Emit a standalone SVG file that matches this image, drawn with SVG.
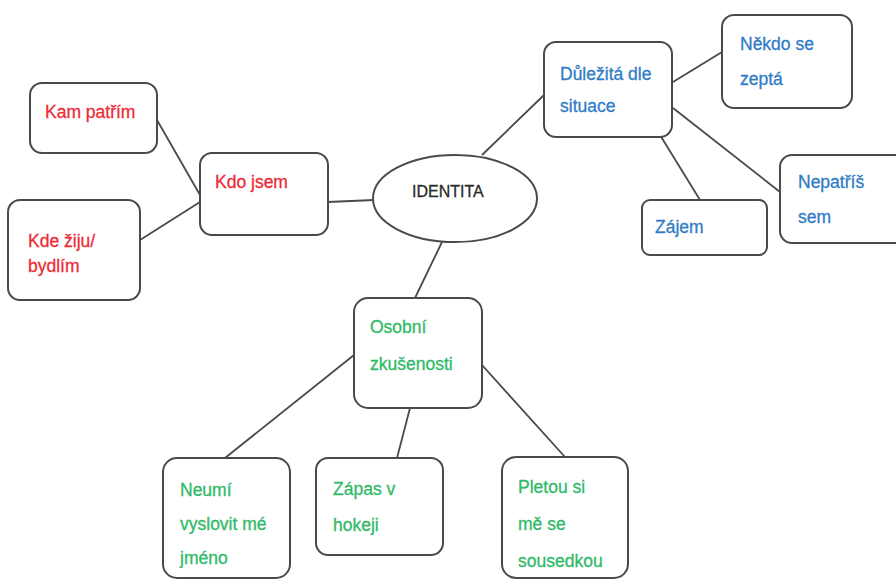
<svg xmlns="http://www.w3.org/2000/svg" width="896" height="581" viewBox="0 0 896 581">
<style>
.box{fill:#fff;stroke:#4a4a4a;stroke-width:2}
.con{stroke:#4a4a4a;stroke-width:1.8;fill:none}
text{font-family:"Liberation Sans",Arial,sans-serif;font-size:17.5px;stroke-width:0.3}
.r{fill:#ec2b35;stroke:#ec2b35}
.b{fill:#2f7cc6;stroke:#2f7cc6}
.g{fill:#2fba68;stroke:#2fba68}
.k{fill:#2a2a2a;stroke:#2a2a2a;font-size:16px}
</style>
<rect width="896" height="581" fill="#fff"/>
<g id="connectors">
<line class="con" x1="157" y1="120" x2="200" y2="195"/>
<line class="con" x1="140" y1="240" x2="200" y2="202"/>
<line class="con" x1="328" y1="202" x2="374" y2="200"/>
<line class="con" x1="482" y1="155" x2="544" y2="95"/>
<line class="con" x1="673" y1="82" x2="722" y2="52"/>
<line class="con" x1="673" y1="108" x2="780" y2="192"/>
<line class="con" x1="660" y1="135" x2="700" y2="200"/>
<line class="con" x1="442" y1="242" x2="415" y2="298"/>
<line class="con" x1="354" y1="355" x2="225" y2="458"/>
<line class="con" x1="410" y1="408" x2="397" y2="458"/>
<line class="con" x1="482" y1="365" x2="565" y2="457"/>
</g>
<g id="identita">
<ellipse cx="455" cy="198.5" rx="82" ry="43.5" fill="#fff" stroke="#4a4a4a" stroke-width="2"/>
<text class="k" x="412" y="197">IDENTITA</text>
</g>
<g id="kdo-jsem">
<rect class="box" x="200" y="153" width="128" height="82" rx="12"/>
<text class="r" x="215" y="188">Kdo jsem</text>
</g>
<g id="kam-patrim">
<rect class="box" x="30" y="83" width="127" height="70" rx="12"/>
<text class="r" x="45" y="118">Kam patřím</text>
</g>
<g id="kde-ziju">
<rect class="box" x="8" y="200" width="132" height="100" rx="12"/>
<text class="r" x="28" y="247">Kde žiju/</text>
<text class="r" x="28" y="272">bydlím</text>
</g>
<g id="dulezita">
<rect class="box" x="544" y="42" width="128" height="95" rx="12"/>
<text class="b" x="560" y="80">Důležitá dle</text>
<text class="b" x="560" y="112">situace</text>
</g>
<g id="nekdo">
<rect class="box" x="722" y="15" width="130" height="93" rx="12"/>
<text class="b" x="740" y="50">Někdo se</text>
<text class="b" x="740" y="85">zeptá</text>
</g>
<g id="zajem">
<rect class="box" x="642" y="200" width="125" height="55" rx="8"/>
<text class="b" x="655" y="233">Zájem</text>
</g>
<g id="nepatris">
<rect class="box" x="780" y="155" width="130" height="88" rx="12"/>
<text class="b" x="798" y="188">Nepatříš</text>
<text class="b" x="798" y="223">sem</text>
</g>
<g id="osobni">
<rect class="box" x="354" y="298" width="128" height="110" rx="14"/>
<text class="g" x="370" y="333">Osobní</text>
<text class="g" x="370" y="370">zkušenosti</text>
</g>
<g id="neumi">
<rect class="box" x="163" y="458" width="127" height="120" rx="14"/>
<text class="g" x="180" y="496">Neumí</text>
<text class="g" x="180" y="530">vyslovit mé</text>
<text class="g" x="180" y="564">jméno</text>
</g>
<g id="zapas">
<rect class="box" x="316" y="458" width="127" height="97" rx="12"/>
<text class="g" x="333" y="495">Zápas v</text>
<text class="g" x="333" y="531">hokeji</text>
</g>
<g id="pletou">
<rect class="box" x="502" y="457" width="126" height="121" rx="14"/>
<text class="g" x="518" y="493">Pletou si</text>
<text class="g" x="518" y="530">mě se</text>
<text class="g" x="518" y="567">sousedkou</text>
</g>
</svg>
